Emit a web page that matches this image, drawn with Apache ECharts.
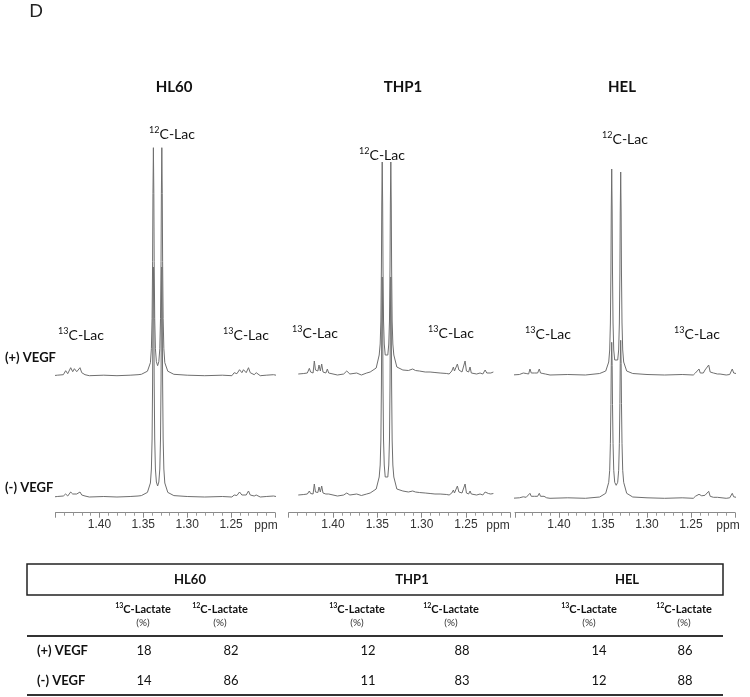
<!DOCTYPE html>
<html>
<head>
<meta charset="utf-8">
<script src="https://cdn.jsdelivr.net/npm/echarts@6/dist/echarts.min.js"></script>
<style>
  html, body { margin: 0; padding: 0; background: #fff; }
  #chart { width: 750px; height: 697px; }
</style>
</head>
<body>
<div id="chart"></div>
<script>
// cell lines and conditions
const cellLines = ['HL60', 'THP1', 'HEL'];
const conditions = ['(+) VEGF', '(-) VEGF'];
// lactate labelling (%), rows = conditions, columns = cell lines
const lac13Pct = [[18, 12, 14], [14, 11, 12]];
const lac12Pct = [[82, 88, 86], [86, 83, 88]];
// ppm axis
const ppmMin = 1.20, ppmMax = 1.45, ppmStep = 0.05;

// spectra, [ppm, intensity]
const hl60Plus = [
  [1.4532,0],[1.4480,0.5],[1.4411,1],[1.4395,2],[1.4384,5],[1.4361,2],[1.4327,8],[1.4304,4],[1.4285,7],[1.4258,4],
  [1.4221,8],[1.4201,3],[1.4183,5],[1.4164,1],[1.4144,3],[1.4115,0],[1.3950,0.5],[1.3800,0],[1.3650,0.5],[1.3560,1],
  [1.3522,1.4],[1.3453,4.5],[1.3419,13],[1.3408,27],[1.3400,57],[1.3394,114],[1.3390,182],[1.3385,228],[1.3380,182],[1.3376,114],
  [1.3370,57],[1.3362,27],[1.3351,14],[1.3337,10],[1.3323,14],[1.3312,27],[1.3304,57],[1.3298,114],[1.3294,182],[1.3289,228],
  [1.3284,182],[1.3280,114],[1.3274,57],[1.3266,27],[1.3255,13],[1.3221,4.5],[1.3152,1.4],[1.3000,0.5],[1.2800,0],[1.2600,0.5],
  [1.2491,0],[1.2465,3],[1.2450,1],[1.2434,2],[1.2420,1],[1.2404,6],[1.2377,3],[1.2359,6],[1.2328,3],[1.2302,8],
  [1.2282,3],[1.2263,4],[1.2237,1],[1.2214,3],[1.2168,0],[1.2100,0.5],[1.2017,1],[1.1960,0],[1.1903,0]
];
const hl60Minus = [
  [1.4532,0],[1.4480,0.5],[1.4411,1],[1.4395,1],[1.4384,3],[1.4361,1],[1.4327,5],[1.4304,3],[1.4285,5],[1.4258,3],
  [1.4221,5],[1.4201,2],[1.4183,4],[1.4164,1],[1.4144,2],[1.4115,0],[1.3950,0.5],[1.3800,0],[1.3650,0.5],[1.3560,1],
  [1.3522,1.4],[1.3453,4.6],[1.3419,14],[1.3408,28],[1.3400,58],[1.3394,115],[1.3390,184],[1.3385,230],[1.3380,184],[1.3376,115],
  [1.3370,58],[1.3362,28],[1.3351,15],[1.3337,11],[1.3323,15],[1.3312,28],[1.3304,58],[1.3298,115],[1.3294,184],[1.3289,230],
  [1.3284,184],[1.3280,115],[1.3274,58],[1.3266,28],[1.3255,14],[1.3221,4.6],[1.3152,1.4],[1.3000,0.5],[1.2800,0],[1.2600,0.5],
  [1.2491,0],[1.2465,2],[1.2450,1],[1.2434,1.5],[1.2420,1],[1.2404,5],[1.2377,2],[1.2359,4],[1.2328,2],[1.2302,6],
  [1.2282,2],[1.2263,3],[1.2237,1],[1.2214,2],[1.2168,0],[1.2100,0.5],[1.2017,1],[1.1960,0],[1.1903,0]
];
const thp1Plus = [
  [1.4392,0],[1.4330,0.5],[1.4290,1],[1.4267,5.7],[1.4253,2],[1.4240,3],[1.4225,1],[1.4211,13],[1.4198,4],[1.4184,6],
  [1.4171,3],[1.4158,9],[1.4143,3],[1.4128,10],[1.4113,2],[1.4098,4],[1.4081,1],[1.4064,5],[1.4049,1],[1.4034,1],
  [1.3950,-1],[1.3880,0],[1.3845,3],[1.3810,0],[1.3733,1],[1.3680,-1],[1.3620,1],
  [1.3581,2],[1.3513,6],[1.3479,19],[1.3468,30],[1.3460,53],[1.3454,106],[1.3450,170],[1.3445,212],[1.3440,170],[1.3436,106],
  [1.3430,53],[1.3422,30],[1.3411,19],[1.3397,17],[1.3382,19],[1.3371,30],[1.3363,53],[1.3357,106],[1.3353,170],[1.3348,212],
  [1.3343,170],[1.3339,106],[1.3333,53],[1.3325,30],[1.3314,19],[1.3280,7],[1.3212,4],
  [1.3150,3.5],[1.3101,5],[1.3070,3.5],[1.3026,3],[1.2960,2],[1.2905,2],[1.2850,1.5],[1.2792,1],[1.2717,0.5],[1.2690,0],
  [1.2660,3],[1.2650,1],[1.2642,7],[1.2630,3],[1.2597,10],[1.2580,4],[1.2567,5],[1.2545,2],[1.2510,13],[1.2495,3],
  [1.2484,5],[1.2470,2],[1.2454,7],[1.2440,1],[1.2423,1],[1.2380,0],[1.2341,1],[1.2310,0],[1.2284,4],[1.2265,1],
  [1.2247,2],[1.2220,1],[1.2191,2]
];
const thp1Minus = [
  [1.4392,0],[1.4330,0.5],[1.4290,1],[1.4267,4],[1.4253,1.5],[1.4240,2.5],[1.4225,1],[1.4211,11],[1.4198,3],[1.4184,5],
  [1.4171,2.5],[1.4158,8],[1.4143,3],[1.4128,9],[1.4113,2],[1.4098,3],[1.4081,1],[1.4064,3],[1.4049,1],[1.4034,0.5],
  [1.3950,-1],[1.3880,0],[1.3845,2],[1.3810,0],[1.3733,1],[1.3680,-0.5],[1.3620,1],
  [1.3581,2],[1.3513,6],[1.3479,18],[1.3468,30],[1.3460,55],[1.3454,109],[1.3450,174],[1.3445,218],[1.3440,174],[1.3436,109],
  [1.3430,55],[1.3422,30],[1.3411,18],[1.3397,16],[1.3382,18],[1.3371,30],[1.3363,55],[1.3357,109],[1.3353,174],[1.3348,218],
  [1.3343,174],[1.3339,109],[1.3333,55],[1.3325,30],[1.3314,18],[1.3280,6],[1.3212,4],
  [1.3150,3],[1.3101,4],[1.3070,3],[1.3026,2.5],[1.2960,2],[1.2905,1.5],[1.2850,1],[1.2792,1],[1.2717,0.5],[1.2690,0],
  [1.2660,2],[1.2650,1],[1.2642,5],[1.2630,2],[1.2597,9],[1.2580,3],[1.2567,4],[1.2545,2],[1.2510,11],[1.2495,2],
  [1.2484,4],[1.2470,1],[1.2454,4],[1.2440,1],[1.2423,1],[1.2380,0],[1.2341,1],[1.2310,0],[1.2284,3],[1.2265,1],
  [1.2247,1.5],[1.2220,1],[1.2191,1.5]
];
const helPlus = [
  [1.4538,0],[1.4450,0.5],[1.4406,2],[1.4396,1],[1.4386,4],[1.4373,1.5],[1.4360,2],[1.4345,1],[1.4330,6],[1.4315,2],
  [1.4299,4],[1.4280,2],[1.4261,4],[1.4243,2],[1.4224,6],[1.4210,2],[1.4197,3],[1.4183,1.5],[1.4170,3],[1.4155,1],
  [1.4140,1],[1.4102,0],[1.3900,0.5],[1.3700,0],
  [1.3538,1.5],[1.3469,4],[1.3435,13],[1.3424,25],[1.3416,52],[1.3410,103],[1.3406,165],[1.3401,206],[1.3396,165],[1.3392,103],
  [1.3386,52],[1.3378,25],[1.3367,15],[1.3350,13],[1.3333,15],[1.3322,25],[1.3314,52],[1.3308,102],[1.3304,162],[1.3299,203],
  [1.3294,162],[1.3290,102],[1.3284,52],[1.3276,25],[1.3265,13],[1.3231,4],[1.3162,1.5],
  [1.3000,0.5],[1.2800,0],[1.2600,0.5],[1.2474,0],[1.2450,2],[1.2430,1],[1.2409,6],[1.2395,2],[1.2378,3],[1.2360,2],
  [1.2341,5],[1.2320,3],[1.2299,10],[1.2282,3],[1.2265,3],[1.2245,2],[1.2227,3],[1.2200,1],[1.2170,1],[1.2100,0],
  [1.2060,0.5],[1.2031,6],[1.2015,2],[1.2000,2],[1.1962,1],[1.1905,0]
];
const helMinus = [
  [1.4538,0],[1.4450,0.5],[1.4406,1.5],[1.4386,3],[1.4373,1],[1.4360,1.5],[1.4330,5],[1.4315,2],[1.4299,3],[1.4280,2],
  [1.4261,3],[1.4243,2],[1.4224,5],[1.4210,2],[1.4197,2],[1.4170,2],[1.4140,0.5],[1.4102,0],[1.3900,0.5],[1.3700,0],
  [1.3538,1.3],[1.3469,5],[1.3435,16],[1.3424,28],[1.3416,55],[1.3410,94],[1.3406,133],[1.3401,156],[1.3396,133],[1.3392,94],
  [1.3386,55],[1.3378,28],[1.3367,16],[1.3350,13],[1.3333,16],[1.3322,28],[1.3314,55],[1.3308,95],[1.3304,135],[1.3299,158],
  [1.3294,135],[1.3290,95],[1.3284,55],[1.3276,28],[1.3265,16],[1.3231,5],[1.3162,1.3],
  [1.3000,0.5],[1.2800,0],[1.2600,0.5],[1.2474,0],[1.2450,2],[1.2430,1],[1.2409,4],[1.2395,2],[1.2378,2.5],[1.2360,1.5],
  [1.2341,3],[1.2320,2],[1.2299,7],[1.2282,2],[1.2265,2],[1.2245,1],[1.2227,2],[1.2200,1],[1.2100,0],[1.2060,0.5],
  [1.2031,5],[1.2015,1.5],[1.2000,1.5],[1.1962,0.5],[1.1905,0]
];

// layout of the three spectrum panels (pixels)
const panels = [
  { left: 55.5, width: 219.5, upperBase: 375.7, lowerBase: 497, axisY: 512.7, titleX: 174, lac12: [172, 134], lac13: [[81, 335], [246, 335]], ppmX: 266, spectra: [hl60Plus, hl60Minus] },
  { left: 288.7, width: 221.6, upperBase: 374, lowerBase: 495, axisY: 512.7, titleX: 403, lac12: [382, 155], lac13: [[315, 333], [451, 333]], ppmX: 498, spectra: [thp1Plus, thp1Minus] },
  { left: 515, width: 220, upperBase: 375, lowerBase: 498.3, axisY: 512.7, titleX: 622, lac12: [625, 139], lac13: [[548, 334], [697, 334]], ppmX: 728, spectra: [helPlus, helMinus] }
];
const H = 350; // grid height, 1 intensity unit = 1 px

const FONT = 'Lato, "Open Sans", sans-serif';
const AXFONT = '"Liberation Sans", Arial, sans-serif';
const lineColor = '#6f6f6f';

const grid = [], xAxis = [], yAxis = [], series = [];
panels.forEach((p, i) => {
  [p.upperBase, p.lowerBase].forEach((base, k) => {
    const gi = grid.length;
    grid.push({ left: p.left, width: p.width, top: base - H, height: H });
    const visible = k === 1;
    xAxis.push({
      gridIndex: gi, type: 'value', min: ppmMin, max: ppmMax, interval: ppmStep, inverse: true,
      show: visible, offset: visible ? p.axisY - base : 0,
      axisLine: { onZero: false, lineStyle: { color: '#8a8a8a', width: 1 } },
      axisTick: { length: 5, lineStyle: { color: '#8a8a8a' } },
      minorTick: { show: true, splitNumber: 5, length: 3, lineStyle: { color: '#9a9a9a' } },
      splitLine: { show: false },
      axisLabel: {
        showMinLabel: false, showMaxLabel: false, margin: 6,
        fontFamily: AXFONT, fontSize: 12, color: '#333',
        formatter: v => v.toFixed(2)
      }
    });
    yAxis.push({ gridIndex: gi, type: 'value', min: 0, max: H, show: false, splitLine: { show: false } });
    series.push({
      type: 'line', xAxisIndex: gi, yAxisIndex: gi, data: p.spectra[k],
      showSymbol: false, symbol: 'none', clip: false, silent: true,
      lineStyle: { color: lineColor, width: 1 }
    });
  });
});

// text helpers
function txt(x, y, text, opt) {
  opt = opt || {};
  return {
    type: 'text', x: x, y: y, silent: true,
    style: Object.assign({
      text: text, align: 'center', verticalAlign: 'middle',
      fontFamily: FONT, fontSize: 14, fill: '#111'
    }, opt)
  };
}
function supTxt(x, y, sup, rest, size, weight, supSize) {
  return txt(x, y, '{s|' + sup + '}{n|' + rest + '}', {
    rich: {
      s: { fontSize: supSize, fontFamily: FONT, fontWeight: weight, fill: '#111', verticalAlign: 'top', lineHeight: supSize + 1 },
      n: { fontSize: size, fontFamily: FONT, fontWeight: weight, fill: '#111', lineHeight: size + 3 }
    }
  });
}

const graphic = [];
graphic.push(txt(36, 11, 'D', { fontSize: 18, fill: '#222' }));
panels.forEach((p, i) => {
  graphic.push(txt(p.titleX, 87, cellLines[i], { fontSize: 15, fontWeight: 'bold' }));
  graphic.push(supTxt(p.lac12[0], p.lac12[1], '12', 'C-Lac', 14, 'normal', 9));
  p.lac13.forEach(pt => graphic.push(supTxt(pt[0], pt[1], '13', 'C-Lac', 14, 'normal', 9)));
  graphic.push(txt(p.ppmX, 526, 'ppm', { fontFamily: AXFONT, fontSize: 12, fill: '#333' }));
});
graphic.push(txt(5, 358, conditions[0], { align: 'left', fontSize: 13, fontWeight: 'bold' }));
graphic.push(txt(5, 488, conditions[1], { align: 'left', fontSize: 13, fontWeight: 'bold' }));

// table
const tLeft = 27, tRight = 723;
const headX = [190, 412, 627];
const colX = [[143, 220], [357, 451], [589, 684]];
const valX = [[144, 231], [368, 462], [599, 685]];
const rowY = [651, 681];
graphic.push({ type: 'rect', silent: true, shape: { x: tLeft, y: 564, width: tRight - tLeft, height: 31 }, style: { fill: 'none', stroke: '#222', lineWidth: 1.5 } });
graphic.push({ type: 'line', silent: true, shape: { x1: tLeft, y1: 636, x2: tRight, y2: 636 }, style: { stroke: '#333', lineWidth: 2 } });
graphic.push({ type: 'line', silent: true, shape: { x1: tLeft, y1: 695, x2: tRight, y2: 695 }, style: { stroke: '#333', lineWidth: 2 } });
cellLines.forEach((c, i) => {
  graphic.push(txt(headX[i], 580, c, { fontSize: 13, fontWeight: 'bold' }));
  graphic.push(supTxt(colX[i][0], 609, '13', 'C-Lactate', 11, 'bold', 7));
  graphic.push(supTxt(colX[i][1], 609, '12', 'C-Lactate', 11, 'bold', 7));
  graphic.push(txt(colX[i][0], 623, '(%)', { fontSize: 10, fill: '#333' }));
  graphic.push(txt(colX[i][1], 623, '(%)', { fontSize: 10, fill: '#333' }));
  conditions.forEach((cond, r) => {
    graphic.push(txt(valX[i][0], rowY[r], String(lac13Pct[r][i]), { fontSize: 13 }));
    graphic.push(txt(valX[i][1], rowY[r], String(lac12Pct[r][i]), { fontSize: 13 }));
  });
});
conditions.forEach((cond, r) => graphic.push(txt(37, rowY[r], cond, { align: 'left', fontSize: 13, fontWeight: 'bold' })));

const chart = echarts.init(document.getElementById('chart'));
chart.setOption({
  animation: false,
  backgroundColor: '#fff',
  grid: grid, xAxis: xAxis, yAxis: yAxis, series: series,
  graphic: graphic
});
</script>
</body>
</html>
